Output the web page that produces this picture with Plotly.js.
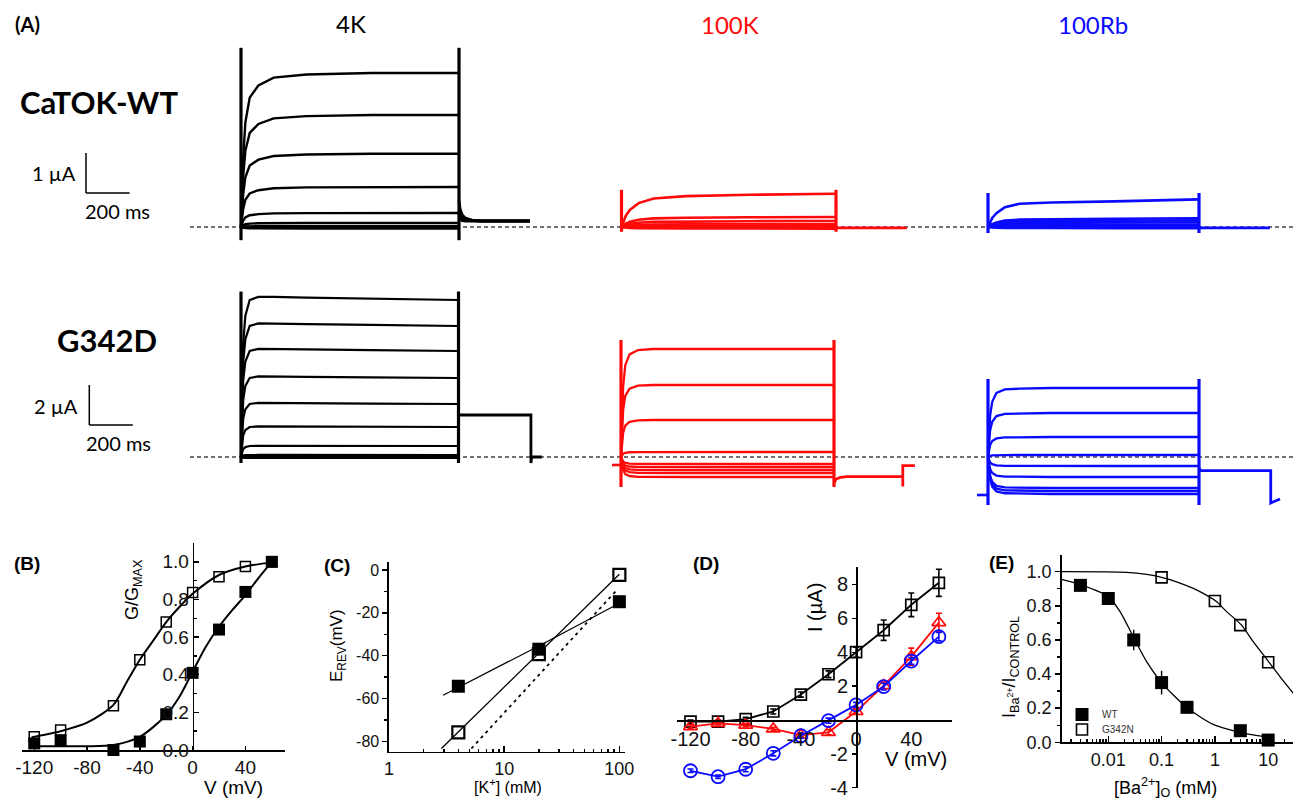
<!DOCTYPE html>
<html><head><meta charset="utf-8">
<script src="https://cdn.plot.ly/plotly-3.0.1.min.js"></script>
<style>html,body{margin:0;padding:0;background:#fff}#chart{width:1301px;height:801px}</style>
</head><body><div id="chart"></div>
<script>
const W = 1301, H = 801;

// ================= Panel A data (current traces) =================
const pulseDur = 1000;               // ms
const scaleBarT = 200;               // ms
const scaleBarI = [1, 2];            // µA (WT row, G342D row)
const actTimes = [0, 5, 10, 20, 40, 80, 150, 300, 600, 1000];
const profWT4K   = [0, 0.25, 0.45, 0.68, 0.84, 0.92, 0.97, 0.99, 1.0, 1.0];
const profWT100K = [0, 0.10, 0.20, 0.34, 0.52, 0.72, 0.86, 0.93, 0.97, 1.0];
const profWT100Rb= [0, 0.10, 0.19, 0.33, 0.50, 0.72, 0.84, 0.89, 0.93, 1.0];
const profG4K    = [0, 0.50, 0.72, 0.90, 1.00, 1.02, 1.02, 1.015, 1.008, 1.0];
const profG100K  = [0, 0.45, 0.65, 0.85, 0.95, 0.99, 1.0, 1.0, 1.0, 1.0];
const profG100Rb = [0, 0.40, 0.60, 0.80, 0.93, 0.98, 0.99, 1.0, 1.0, 1.0];

const sweepsWT4K   = [3.85, 2.8, 1.83, 1.0, 0.35, 0.1, 0.02, 0, -0.02, -0.04];
const sweepsWT100K = [0.83, 0.25, 0.15, 0.07, 0.03, 0, -0.02, -0.04];
const sweepsWT100Rb= [0.69, 0.22, 0.17, 0.12, 0.06, 0.02, 0, -0.03];
const sweepsG4K    = [7.85, 6.55, 5.3, 3.95, 2.65, 1.5, 0.55, 0.1, 0, -0.05];
const sweepsG100K  = [5.4, 3.6, 1.85, 0.25, -0.35, -0.5, -0.65, -0.8, -1.0];
const sweepsG100Rb = [3.45, 2.2, 1.0, 0.1, -0.45, -1.0, -1.55, -1.7, -1.85];

const spikeWT4K = [-0.33, 4.48], spikeWT100K = [-0.12, 0.93], spikeWT100Rb = [-0.15, 0.85];
const spikeG4K = [-0.3, 8.27], spikeG100K = [-1.5, 5.85], spikeG100Rb = [-2.4, 3.9];

const tailTWT4K = [0, 5, 15, 30, 60, 100, 325];
const tailsWT4K = [[0.65, 0.45, 0.3, 0.22, 0.17, 0.15, 0.15], [0.4, 0.3, 0.22, 0.18, 0.16, 0.15, 0.15], [0.2, 0.18, 0.16, 0.15, 0.15, 0.15, 0.15]];
const tailTWT100K = [0, 330];            const tailsWT100K = [[-0.02, -0.02]];
const tailTWT100Rb = [0, 336];           const tailsWT100Rb = [[-0.02, -0.02]];
const tailTG4K = [0, 333, 333, 336, 383]; const tailsG4K = [[2.1, 2.1, -0.3, 0, 0]];
const tailTG100K = [0, 10, 30, 60, 323, 323, 323, 380];
const tailsG100K = [[-1.3, -1.1, -1.02, -0.98, -0.98, -1.48, -0.43, -0.43]];
const tailTG100Rb = [0, 8, 340, 340, 384]; const tailsG100Rb = [[-0.55, -0.68, -0.68, -2.3, -2.1]];
const preTG100K = [-42, 0], preIG100K = [-0.4, -0.4];
const preTG100Rb = [-52, 0], preIG100Rb = [-1.9, -1.9];

// ================= Panel B data =================
const vB = [-120, -100, -60, -40, -20, 0, 20, 40, 60];
const gOpenB = [0.07, 0.106, 0.235, 0.48, 0.68, 0.837, 0.92, 0.975, 1.0];
const gFilledB = [0.035, 0.05, 0.0, 0.045, 0.19, 0.41, 0.64, 0.84, 1.0];
const fitOpenVB = [-122, -120, -100, -80, -60, -50, -40, -30, -20, -10, 0, 20, 40, 60];
const fitOpenGB = [0.066, 0.07, 0.1, 0.145, 0.24, 0.36, 0.48, 0.58, 0.68, 0.76, 0.83, 0.93, 0.975, 0.997];
const fitFilledVB = [-122, -100, -80, -60, -40, -20, -10, 0, 10, 20, 30, 40, 50, 60];
const fitFilledGB = [0.02, 0.02, 0.02, 0.027, 0.07, 0.186, 0.283, 0.416, 0.549, 0.655, 0.743, 0.823, 0.915, 1.0];

// ================= Panel C data =================
const kC = [4, 20, 100];
const eWTC = [-54.3, -37, -14.8];
const eGC = [-75.9, -39.3, -2.3];
const lineWTK = [2.95, 20, 100], lineWTE = [-58.5, -35.5, -15.5];
const lineGK = [2.85, 100], lineGE = [-83.4, -2];
const nernstK = [5.19, 94.5], nernstE = [-83.4, -9.5];

// ================= Panel D data =================
const vD = [-120, -100, -80, -60, -40, -20, 0, 20, 40, 60];
const iBlackD = [-0.1, -0.1, 0.05, 0.5, 1.5, 2.7, 4.0, 5.3, 6.8, 8.1];
const errBlackD = [0.1, 0.1, 0.1, 0.15, 0.15, 0.2, 0.3, 0.6, 0.7, 0.8];
const iRedD = [-0.39, -0.2, -0.3, -0.53, -0.9, -0.73, 0.5, 2.03, 3.74, 5.75];
const errRedD = [0.1, 0.1, 0.1, 0.1, 0.1, 0.15, 0.15, 0.2, 0.5, 0.55];
const iBlueD = [-3.0, -3.35, -2.91, -1.97, -0.93, -0.04, 0.89, 1.97, 3.48, 4.92];
const errBlueD = [0.1, 0.1, 0.15, 0.15, 0.15, 0.15, 0.15, 0.2, 0.2, 0.25];

// ================= Panel E data =================
const baWT = [0.003, 0.01, 0.03, 0.1, 0.3, 3, 10];
const relWT = [0.92, 0.843, 0.6, 0.35, 0.205, 0.068, 0.013];
const errWT = [0.02, 0.03, 0.06, 0.07, 0.02, 0.01, 0.01];
const baG = [0.1, 1, 3, 10];
const relG = [0.967, 0.828, 0.687, 0.469];
const fitWTx = [0.00133, 0.00286, 0.01, 0.0166, 0.0294, 0.0523, 0.1, 0.166, 0.294, 0.523, 0.93, 1.66, 3.07, 5.23, 10.7];
const fitWTy = [0.955, 0.926, 0.854, 0.766, 0.619, 0.473, 0.35, 0.277, 0.205, 0.15, 0.105, 0.078, 0.057, 0.043, 0.029];
const fitGx = [0.00134, 0.0221, 0.0523, 0.1, 0.191, 0.393, 0.604, 1.04, 1.66, 3.16, 5.23, 10.4, 16.6, 29.6];
const fitGy = [1.0, 0.996, 0.984, 0.967, 0.941, 0.902, 0.873, 0.828, 0.766, 0.687, 0.59, 0.469, 0.385, 0.287];

// ================= Layout helpers =================
const FONT = 'Liberation Sans, Arial, sans-serif';
const CAL = 'Lato, Open Sans, sans-serif';
const traces = [];
const annotations = [];
const shapes = [];
const legendStyle = {xanchor: 'left', yanchor: 'top', bgcolor: 'rgba(0,0,0,0)',
  font: {family: FONT, size: 10, color: '#333'}, tracegroupgap: 0, itemwidth: 30, borderwidth: 0};
const layout = {
  width: W, height: H, margin: {l: 0, r: 0, t: 0, b: 0, pad: 0}, autosize: false,
  paper_bgcolor: '#fff', plot_bgcolor: 'rgba(0,0,0,0)',
  font: {family: FONT, color: '#000'}, showlegend: true,
  legend: Object.assign({x: 1062 / W, y: 1 - 700 / H}, legendStyle),
  legend2: Object.assign({x: 1062 / W, y: 1 - 715 / H}, legendStyle),
  annotations, shapes
};
function ann(text, px, py, size, opts) {
  annotations.push(Object.assign({text, x: px / W, y: 1 - py / H, xref: 'paper', yref: 'paper',
    xanchor: 'center', yanchor: 'middle', showarrow: false, font: {family: FONT, size, color: '#000'}}, opts || {}));
}
function axName(n) { return n === 1 ? '' : String(n); }

// ================= Panel A axes & traces =================
const colBounds = [[0, 565], [565, 940], [940, 1301]];
const rowGeom = [{T: 35, B: 255, base: 227, ky: 40}, {T: 270, B: 525, base: 457, ky: 20}];
const colGeom = [[{x0: 241, x1: 459}, {x0: 621.5, x1: 836}, {x0: 988, x1: 1199}],
                 [{x0: 241, x1: 458.5}, {x0: 621, x1: 834}, {x0: 988, x1: 1199}]];
const RED = '#ff0a0a', BLUE = '#0a0aff';
const panelsA = [
  {sw: sweepsWT4K, pr: profWT4K, sp: spikeWT4K, tt: tailTWT4K, tl: tailsWT4K, c: '#000', row: 0, col: 0, lw: 2.4},
  {sw: sweepsWT100K, pr: profWT100K, sp: spikeWT100K, tt: tailTWT100K, tl: tailsWT100K, c: RED, row: 0, col: 1, lw: 2.6},
  {sw: sweepsWT100Rb, pr: profWT100Rb, sp: spikeWT100Rb, tt: tailTWT100Rb, tl: tailsWT100Rb, c: BLUE, row: 0, col: 2, lw: 2.6},
  {sw: sweepsG4K, pr: profG4K, sp: spikeG4K, tt: tailTG4K, tl: tailsG4K, c: '#000', row: 1, col: 0, lw: 2.2},
  {sw: sweepsG100K, pr: profG100K, sp: spikeG100K, tt: tailTG100K, tl: tailsG100K, c: RED, row: 1, col: 1, lw: 2.3, preT: preTG100K, preI: preIG100K},
  {sw: sweepsG100Rb, pr: profG100Rb, sp: spikeG100Rb, tt: tailTG100Rb, tl: tailsG100Rb, c: BLUE, row: 1, col: 2, lw: 2.3, preT: preTG100Rb, preI: preIG100Rb}
];
const geomA = [];
panelsA.forEach((p, i) => {
  const n = i + 1, s = axName(n);
  const rg = rowGeom[p.row], cg = colGeom[p.row][p.col], cb = colBounds[p.col];
  const kx = (cg.x1 - cg.x0) / pulseDur;
  geomA.push({kx, x0: cg.x0, base: rg.base, ky: rg.ky});
  layout['xaxis' + s] = {visible: false, domain: [cb[0] / W, cb[1] / W], range: [(cb[0] - cg.x0) / kx, (cb[1] - cg.x0) / kx], anchor: 'y' + s, fixedrange: true};
  layout['yaxis' + s] = {visible: false, domain: [1 - rg.B / H, 1 - rg.T / H], range: [(rg.base - rg.B) / rg.ky, (rg.base - rg.T) / rg.ky], anchor: 'x' + s, fixedrange: true};
  const common = {type: 'scatter', mode: 'lines', xaxis: 'x' + s, yaxis: 'y' + s, showlegend: false, hoverinfo: 'skip', cliponaxis: false};
  if (p.preT) traces.push(Object.assign({x: p.preT, y: p.preI, line: {color: p.c, width: 2.6}}, common));
  p.sw.forEach(a => {
    traces.push(Object.assign({x: actTimes, y: p.pr.map(f => a * f), line: {color: p.c, width: p.lw}}, common));
  });
  [0, pulseDur].forEach(t => traces.push(Object.assign({x: [t, t], y: p.sp, line: {color: p.c, width: 3.2}}, common)));
  p.tl.forEach(tv => traces.push(Object.assign({x: p.tt.map(t => pulseDur + t), y: tv, line: {color: p.c, width: 2.8}}, common)));
});
// dashed baselines (zero current), one per row
[['y', 0], ['y4', 1]].forEach(([yr]) => shapes.push({type: 'line', xref: 'paper', yref: yr, x0: 190 / W, x1: 1293 / W, y0: 0, y1: 0,
  line: {color: '#444', width: 1.6, dash: '4px,3px'}, layer: 'below'}));
// scale bars
[[0, 'x', 'y', 86, 193], [3, 'x4', 'y4', 89.3, 425]].forEach(([gi, xr, yr, cx, cy], k) => {
  const g = geomA[gi];
  const t0 = (cx - g.x0) / g.kx, i0 = (g.base - cy) / g.ky;
  shapes.push({type: 'line', xref: xr, yref: yr, x0: t0, x1: t0, y0: i0, y1: i0 + scaleBarI[k], line: {color: '#000', width: 1.5}});
  shapes.push({type: 'line', xref: xr, yref: yr, x0: t0, x1: t0 + scaleBarT, y0: i0, y1: i0, line: {color: '#000', width: 1.5}});
});
ann('<b>(A)</b>', 27, 24, 20, {font: {family: CAL, size: 20, color: '#000'}});
ann('4K', 351, 24, 24, {font: {family: CAL, size: 24, color: '#000'}});
ann('100K', 730, 25, 24, {font: {family: CAL, size: 24, color: RED}});
ann('100Rb', 1093, 25, 24, {font: {family: CAL, size: 24, color: BLUE}});
ann('<b>CaTOK-WT</b>', 99, 102, 31, {font: {family: CAL, size: 31, color: '#000'}});
ann('<b>G342D</b>', 107, 340, 31, {font: {family: CAL, size: 31, color: '#000'}});
ann('1 µA', 54, 173, 20, {font: {family: CAL, size: 20, color: '#000'}});
ann('200 ms', 117, 211, 20, {font: {family: CAL, size: 20, color: '#000'}});
ann('2 µA', 56, 406, 20, {font: {family: CAL, size: 20, color: '#000'}});
ann('200 ms', 118, 443, 20, {font: {family: CAL, size: 20, color: '#000'}});

// ================= Axis style =================
function ax(extra) {
  return Object.assign({showgrid: false, zeroline: false, showline: true, linecolor: '#000', linewidth: 1.6,
    ticks: 'outside', ticklen: 5, tickwidth: 1.4, tickcolor: '#000', fixedrange: true,
    tickfont: {family: FONT, size: 18, color: '#111'}}, extra);
}

// ---------- Panel B (x7/y7) ----------
layout.xaxis7 = ax({domain: [21.7 / W, 285 / W], range: [-129.5, 70], anchor: 'y7', tickvals: [-120, -80, -40, 0, 40],
  ticktext: ['-120', '-80', '-40', '0', '40'], ticks: 'inside', ticklen: 4, tickfont: {family: FONT, size: 19, color: '#111'}});
layout.yaxis7 = ax({domain: [1 - 750 / H, 1 - 543 / H], range: [0, 1.1], anchor: 'free', position: 192.7 / W,
  tickvals: [0, 0.2, 0.4, 0.6, 0.8, 1.0], ticktext: ['0.0', '0.2', '0.4', '0.6', '0.8', '1.0'], ticks: 'inside', ticklen: 5,
  minor: {ticks: 'inside', ticklen: 3, dtick: 0.1, tickcolor: '#000'}, tickfont: {family: FONT, size: 19, color: '#111'}});
const bc = {type: 'scatter', xaxis: 'x7', yaxis: 'y7', showlegend: false, hoverinfo: 'skip', cliponaxis: false};
traces.push(Object.assign({x: fitOpenVB, y: fitOpenGB, mode: 'lines', line: {color: '#000', width: 2, shape: 'spline', smoothing: 0.8}}, bc));
traces.push(Object.assign({x: fitFilledVB, y: fitFilledGB, mode: 'lines', line: {color: '#000', width: 2, shape: 'spline', smoothing: 0.8}}, bc));
traces.push(Object.assign({x: vB, y: gOpenB, mode: 'markers', marker: {symbol: 'square-open', size: 10, color: '#000', line: {width: 1.5, color: '#000'}}}, bc));
traces.push(Object.assign({x: vB, y: gFilledB, mode: 'markers', marker: {symbol: 'square', size: 12, color: '#000'}}, bc));
ann('<b>(B)</b>', 27, 563, 19);
ann('G/G<sub>MAX</sub>', 133, 590, 18, {textangle: -90});
ann('V (mV)', 233, 787, 19);

// ---------- Panel C (x8/y8) ----------
layout.xaxis8 = ax({type: 'log', domain: [389 / W, 625 / W], range: [0, 2.049], anchor: 'y8', tickvals: [1, 10, 100],
  ticktext: ['1', '10', '100'], ticks: 'inside', ticklen: 6, minor: {ticks: 'inside', ticklen: 3, tickcolor: '#000', dtick: 'D1'},
  tickfont: {family: FONT, size: 18, color: '#111'}});
layout.yaxis8 = ax({domain: [1 - 751.7 / H, 1 - 561.7 / H], range: [-84.9, 3.9], anchor: 'x8', tickvals: [0, -20, -40, -60, -80],
  ticktext: ['0', '-20', '-40', '-60', '-80'], ticks: 'outside', ticklen: 5, minor: {ticks: 'outside', ticklen: 3, dtick: 10, tickcolor: '#000'},
  tickfont: {family: FONT, size: 16, color: '#111'}});
const cc = {type: 'scatter', xaxis: 'x8', yaxis: 'y8', showlegend: false, hoverinfo: 'skip', cliponaxis: false};
traces.push(Object.assign({x: nernstK, y: nernstE, mode: 'lines', line: {color: '#000', width: 1.8, dash: '3px,4px'}}, cc));
traces.push(Object.assign({x: lineWTK, y: lineWTE, mode: 'lines', line: {color: '#000', width: 1.3}}, cc));
traces.push(Object.assign({x: lineGK, y: lineGE, mode: 'lines', line: {color: '#000', width: 1.3}}, cc));
traces.push(Object.assign({x: kC, y: eWTC, mode: 'markers', marker: {symbol: 'square', size: 13, color: '#000'}}, cc));
traces.push(Object.assign({x: kC, y: eGC, mode: 'markers', marker: {symbol: 'square-open', size: 12, color: '#000', line: {width: 2.2, color: '#000'}}}, cc));
ann('<b>(C)</b>', 337, 565, 19);
ann('E<sub>REV</sub>(mV)', 338, 646, 17, {textangle: -90});
ann('[K<sup>+</sup>] (mM)', 508, 786, 16);

// ---------- Panel D (x9/y9) ----------
layout.xaxis9 = ax({domain: [676.7 / W, 951.7 / W], range: [-130, 69.3], anchor: 'free', position: 1 - 719.9 / H,
  tickvals: [-120, -80, -40, 0, 40], ticktext: ['-120', '-80', '-40', '0', '40'], ticks: '', tickfont: {family: FONT, size: 20, color: '#111'}});
layout.yaxis9 = ax({domain: [1 - 787.7 / H, 1 - 566.7 / H], range: [-4, 9.05], anchor: 'free', position: 856 / W,
  tickvals: [-4, -2, 2, 4, 6, 8], ticktext: ['-4', '-2', '2', '4', '6', '8'], ticks: 'outside', ticklen: 4, tickfont: {family: FONT, size: 20, color: '#111'}});
const dc = {type: 'scatter', xaxis: 'x9', yaxis: 'y9', showlegend: false, hoverinfo: 'skip', cliponaxis: false, mode: 'lines+markers'};
traces.push(Object.assign({x: vD, y: iBlackD, error_y: {type: 'data', array: errBlackD, color: '#000', thickness: 1.6, width: 3},
  line: {color: '#000', width: 1.8}, marker: {symbol: 'square-open', size: 11, color: '#000', line: {width: 1.7, color: '#000'}}}, dc));
traces.push(Object.assign({x: vD, y: iRedD, error_y: {type: 'data', array: errRedD, color: RED, thickness: 1.6, width: 3},
  line: {color: RED, width: 1.8}, marker: {symbol: 'triangle-up-open', size: 12, color: RED, line: {width: 1.7, color: RED}}}, dc));
traces.push(Object.assign({x: vD, y: iBlueD, error_y: {type: 'data', array: errBlueD, color: BLUE, thickness: 1.6, width: 3},
  line: {color: BLUE, width: 1.8}, marker: {symbol: 'circle-open', size: 13, color: BLUE, line: {width: 1.8, color: BLUE}}}, dc));
ann('<b>(D)</b>', 706, 563, 19);
ann('I (µA)', 815, 608, 20, {textangle: -90});
ann('V (mV)', 916, 759, 20);

// ---------- Panel E (x10/y10) ----------
layout.xaxis10 = ax({type: 'log', domain: [1061.7 / W, 1293.3 / W], range: [-2.874, 1.471], anchor: 'y10',
  tickvals: [0.01, 0.1, 1, 10], ticktext: ['0.01', '0.1', '1', '10'], ticks: 'inside', ticklen: 6,
  minor: {ticks: 'inside', ticklen: 3, tickcolor: '#000', dtick: 'D1'}, tickfont: {family: FONT, size: 18, color: '#111'}});
layout.yaxis10 = ax({domain: [1 - 742.3 / H, 1 - 555 / H], range: [0, 1.098], anchor: 'x10',
  tickvals: [0, 0.2, 0.4, 0.6, 0.8, 1.0], ticktext: ['0.0', '0.2', '0.4', '0.6', '0.8', '1.0'], ticks: 'outside', ticklen: 5,
  minor: {ticks: 'outside', ticklen: 3, dtick: 0.1, tickcolor: '#000'}, tickfont: {family: FONT, size: 18, color: '#111'}});
const ec = {type: 'scatter', xaxis: 'x10', yaxis: 'y10', hoverinfo: 'skip', cliponaxis: false};
traces.push(Object.assign({x: fitWTx, y: fitWTy, mode: 'lines', showlegend: false, line: {color: '#000', width: 1.3, shape: 'spline', smoothing: 0.8}}, ec));
traces.push(Object.assign({x: fitGx, y: fitGy, mode: 'lines', showlegend: false, line: {color: '#000', width: 1.3, shape: 'spline', smoothing: 0.8}}, ec));
traces.push(Object.assign({x: baWT, y: relWT, name: 'WT', mode: 'markers', showlegend: true, legend: 'legend',
  error_y: {type: 'data', array: errWT, color: '#000', thickness: 1.4, width: 0}, marker: {symbol: 'square', size: 13, color: '#000'}}, ec));
traces.push(Object.assign({x: baG, y: relG, name: 'G342N', mode: 'markers', showlegend: true, legend: 'legend2',
  marker: {symbol: 'square-open', size: 11, color: '#000', line: {width: 1.6, color: '#000'}}}, ec));
ann('<b>(E)</b>', 1001, 562, 19);
ann('I<sub>Ba<sup>2+</sup></sub>/I<sub>CONTROL</sub>', 1010, 667, 18, {textangle: -90});
ann('[Ba<sup>2+</sup>]<sub>O</sub> (mM)', 1165, 787, 18);

Plotly.newPlot('chart', traces, layout, {displayModeBar: false, staticPlot: true});
</script>
</body></html>
